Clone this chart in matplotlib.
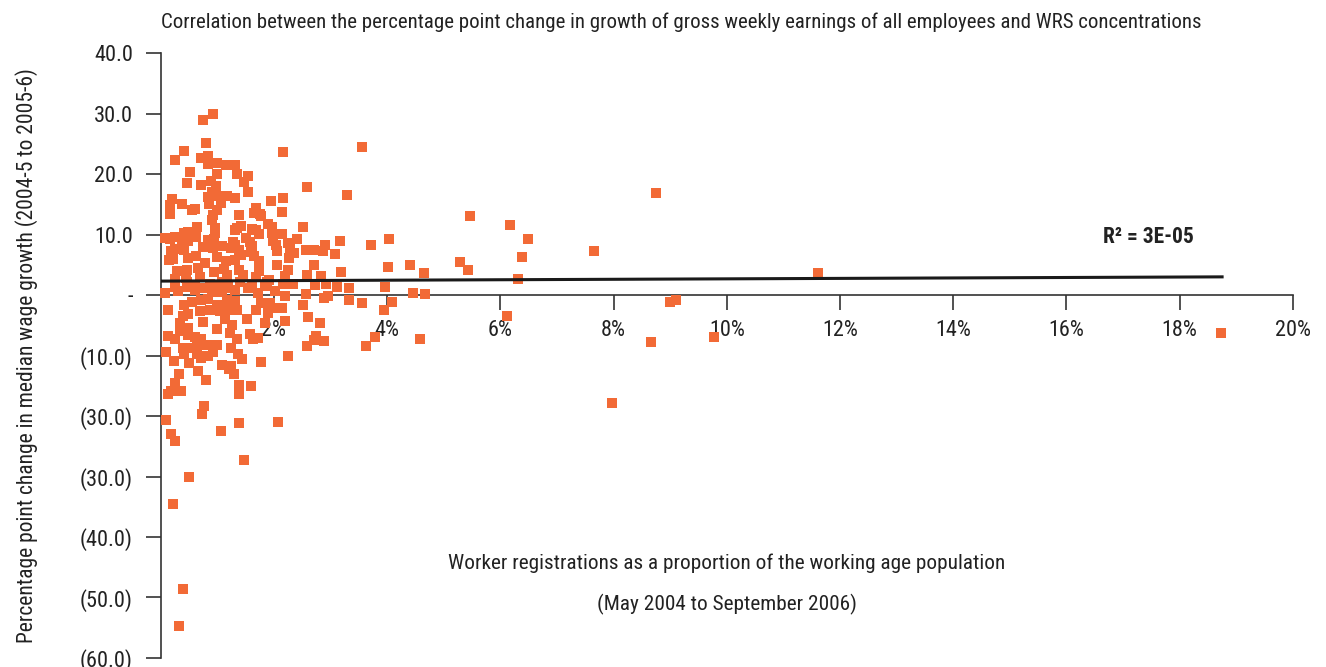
import matplotlib
matplotlib.use('Agg')
import matplotlib.pyplot as plt
from matplotlib import font_manager

# pick a narrow font if one is installed
installed = {f.name for f in font_manager.fontManager.ttflist}
font = 'DejaVu Sans'
for cand in ['Liberation Sans Narrow', 'Roboto Condensed', 'Open Sans Condensed']:
    if cand in installed:
        font = cand
        break
plt.rcParams['font.family'] = [font, 'DejaVu Sans']

TITLE = ('Correlation between the percentage point change in growth of gross weekly '
         'earnings of all employees and WRS concentrations')
YLABEL = 'Percentage point change in median wage growth (2004-5 to 2005-6)'
XLABEL_1 = 'Worker registrations as a proportion of the working age population'
XLABEL_2 = '(May 2004 to September 2006)'

# worker registrations (% of working age pop.) vs change in wage growth (pp)
registrations = [
    18.73, 11.62, 8.75, 8.66, 7.97, 7.65, 9.00, 9.10, 9.78, 6.49, 6.38, 6.31, 6.17, 6.12,
    5.46, 5.28, 5.42, 4.67, 4.65, 4.58, 4.40, 4.45, 4.03, 4.01, 3.96, 4.08, 3.94, 3.78,
    3.63, 3.71, 3.56,
    2.16, 2.58, 3.29, 2.16, 2.14, 2.51, 2.14, 2.40, 2.24, 2.90, 3.16, 2.28, 2.56, 2.71,
    2.86, 2.36, 3.08, 2.05, 2.26, 2.05, 2.71, 2.24, 3.18, 2.58, 2.83, 2.19, 2.16, 2.34,
    2.72, 2.92, 3.11, 3.32,
    2.19, 3.32, 2.56, 2.52, 2.88, 2.95, 3.55, 2.14, 2.19, 2.61, 2.81, 2.74, 2.71, 2.88,
    2.58, 2.24, 2.08,
    0.92, 0.75, 0.80, 0.42, 0.26, 0.71, 0.83, 0.83, 0.99, 1.15, 1.32, 0.51, 0.99, 1.34,
    1.54, 0.46, 0.72, 0.88, 0.97, 1.48, 1.55, 0.90, 0.83, 1.01, 1.17, 1.31, 0.20, 0.16,
    0.37, 0.86, 1.06, 1.94, 0.16, 0.55, 0.61, 0.99, 0.92, 1.38, 1.69, 1.75, 1.65, 1.78,
    0.90, 1.89, 1.96, 0.64, 0.96, 1.34, 1.41, 1.31, 1.61, 1.68, 1.73, 1.96, 0.96, 0.07,
    0.16, 0.25, 0.41, 0.49, 0.37, 0.48, 0.62, 0.83, 0.94, 1.09, 1.27, 1.32, 1.50, 1.57,
    1.61, 1.99, 2.03, 0.18, 0.25, 0.42, 0.74, 0.92, 1.25, 1.39, 1.59, 0.14, 0.21, 0.48,
    0.62, 0.99, 1.15, 1.31, 1.41, 1.64, 1.73, 0.28, 0.46, 0.65, 0.78, 0.94, 1.11, 1.39,
    1.73, 1.92, 0.25, 0.44, 0.69, 1.17, 1.45, 1.68,
    0.25, 0.46, 0.61, 0.87, 1.08, 1.19, 1.40, 1.61, 1.88,
    0.25, 0.49, 0.78, 0.99, 1.17, 1.55, 1.84, 0.08, 0.31, 0.61, 0.90, 1.08, 1.31, 1.72,
    2.02,
    0.12, 0.42, 0.56, 0.72, 0.84, 0.99, 1.17, 1.31, 1.34, 1.17, 1.05, 0.87, 0.69, 0.49,
    0.40, 1.52, 1.69, 1.78, 1.93, 1.90, 2.05, 1.84, 0.34, 0.75, 1.14, 1.26, 0.99, 0.34,
    0.49, 1.22, 0.49, 0.61, 0.72, 0.25, 0.12, 1.34, 1.58, 1.63, 1.72, 0.64, 0.81, 0.99,
    0.40, 0.55, 1.25, 0.09, 0.42, 0.64, 0.78, 0.93, 1.36, 1.43, 0.24, 0.50, 0.71, 0.84,
    1.08, 1.21, 1.25, 1.30, 1.77, 0.32, 0.65, 0.26, 0.80, 0.13, 0.18, 0.35, 1.38, 1.38,
    1.59, 0.76, 0.73, 0.09, 1.38, 0.18, 0.25, 1.06, 1.47,
    0.50, 0.21, 0.39, 0.32,
]
wage_change = [
    -6.2, 3.7, 16.9, -7.8, -17.8, 7.2, -1.1, -0.9, -6.9, 9.3, 6.3, 2.7, 11.6, -3.4,
    13.1, 5.4, 4.2, 0.1, 3.6, -7.2, 5.0, 0.3, 9.2, 4.6, 1.3, -1.2, -2.4, -7.0,
    -8.5, 8.3, 24.4,
    23.6, 17.8, 16.5, 16.0, 13.7, 11.2, 10.1, 9.2, 8.6, 8.2, 8.9, 7.7, 7.5, 7.4,
    7.3, 6.9, 6.8, 7.3, 6.1, 4.9, 4.9, 4.1, 3.8, 3.3, 3.1, 3.1, 1.8, 1.8,
    1.6, 1.9, 1.4, 1.1,
    -0.2, -0.9, 0.2, -1.6, -0.5, -0.1, -1.4, -2.2, -4.3, -3.6, -4.6, -6.8, -7.4, -7.6,
    -8.4, -10.1, -21.0,
    29.9, 28.9, 25.1, 23.8, 22.3, 22.6, 23.0, 21.7, 21.8, 21.5, 21.5, 20.3, 20.0, 20.0,
    19.7, 18.5, 18.2, 18.9, 18.0, 18.7, 17.0, 17.1, 16.2, 16.3, 16.3, 16.0, 15.9, 14.9,
    15.0, 15.0, 15.2, 15.5, 13.4, 14.0, 14.2, 14.0, 13.2, 13.2, 14.4, 13.4, 13.5, 13.0,
    12.4, 11.7, 11.2, 11.2, 11.1, 11.1, 11.4, 10.7, 10.9, 10.7, 10.1, 10.2, 10.2, 9.4,
    9.2, 9.6, 10.2, 10.4, 8.7, 8.9, 9.6, 9.1, 9.2, 8.1, 8.7, 8.2, 9.4, 8.7,
    8.1, 8.9, 8.2, 7.3, 7.6, 7.4, 7.9, 7.8, 7.8, 7.4, 7.1, 5.8, 5.9, 6.1,
    6.4, 6.3, 5.6, 5.8, 6.6, 6.4, 5.6, 4.0, 4.1, 4.4, 5.3, 3.8, 4.3, 4.1,
    4.0, 2.5, 2.6, 2.8, 3.0, 3.3, 3.3, 3.0,
    2.2, 2.1, 1.4, 1.8, 2.1, 1.4, 2.1, 1.8, 2.2,
    1.3, 1.3, 1.2, 1.5, 1.2, 1.2, 1.5, 0.4, 0.6, 0.9, 0.5, 0.5, 0.8, 0.4,
    0.6,
    -2.5, -1.7, -1.1, -0.9, -0.7, -1.7, -0.9, -1.0, -2.4, -2.4, -2.7, -2.5, -2.7, -3.2,
    -3.5, -4.0, -2.4, -1.3, -1.3, -2.9, -2.1, -4.7, -4.6, -4.5, -4.0, -5.0, -5.6, -6.0,
    -5.4, -6.2, -6.6, -7.0, -7.2, -7.2, -6.8, -7.2, -6.5, -7.3, -7.1, -8.1, -8.3, -8.2,
    -8.7, -8.7, -8.8, -9.4, -9.8, -9.8, -10.1, -9.5, -9.8, -10.5, -10.9, -11.3, -10.4, -10.1,
    -11.6, -12.3, -11.8, -13.0, -11.1, -13.0, -12.5, -14.6, -14.1, -16.4, -15.8, -15.8, -14.9, -16.4,
    -15.1, -18.4, -19.7, -20.7, -21.2, -23.0, -24.1, -22.5, -27.2,
    -30.1, -34.6, -48.6, -54.7,
]

# linear trend line as drawn on the original
trend_x = [0.0, 18.75]
trend_y = [2.3, 3.0]

y_ticks = [40, 30, 20, 10, 0, -10, -20, -30, -40, -50, -60]
y_tick_labels = ['40.0', '30.0', '20.0', '10.0', '-', '(10.0)', '(30.0)', '(30.0)',
                 '(40.0)', '(50.0)', '(60.0)']
x_ticks = [2, 4, 6, 8, 10, 12, 14, 16, 18, 20]
x_tick_labels = [f'{t}%' for t in x_ticks]

orange = '#F26A36'
axis_col = '#333333'

fig = plt.figure(figsize=(13.26, 6.67), dpi=100)
ax = fig.add_axes([0.1212, 0.0135, 0.8538, 0.907])

ax.scatter(registrations, wage_change, marker='s', s=44, color=orange,
           linewidths=0, zorder=3, clip_on=False)
ax.plot(trend_x, trend_y, color='#1a1a1a', lw=2.2, zorder=4)

ax.set_xlim(0, 20)
ax.set_ylim(-60, 40)

ax.spines['top'].set_visible(False)
ax.spines['right'].set_visible(False)
ax.spines['bottom'].set_position(('data', 0))
for s in ['left', 'bottom']:
    ax.spines[s].set_color(axis_col)
    ax.spines[s].set_linewidth(1.2)

ax.set_yticks(y_ticks)
ax.set_yticklabels(y_tick_labels)
ax.set_xticks(x_ticks)
ax.set_xticklabels(x_tick_labels)
ax.tick_params(axis='both', direction='out', length=11, width=1.2, color=axis_col,
               labelsize=16, labelcolor='#222222')
ax.tick_params(axis='y', pad=9)
ax.tick_params(axis='x', pad=7)

ax.set_ylabel(YLABEL, fontsize=15.5, color='#222222', labelpad=30)

ax.text(0.5, 0.157, XLABEL_1, transform=ax.transAxes, ha='center', va='center',
        fontsize=15.3, color='#222222')
ax.text(0.5, 0.089, XLABEL_2, transform=ax.transAxes, ha='center', va='center',
        fontsize=15.3, color='#222222')
ax.text(0.872, 0.696, 'R² = 3E-05', transform=ax.transAxes, ha='center', va='center',
        fontsize=15.5, fontweight='bold', color='#222222')

fig.text(0.514, 0.966, TITLE, ha='center', va='center', fontsize=15, color='#222222')

fig.savefig('out.png', dpi=100)
